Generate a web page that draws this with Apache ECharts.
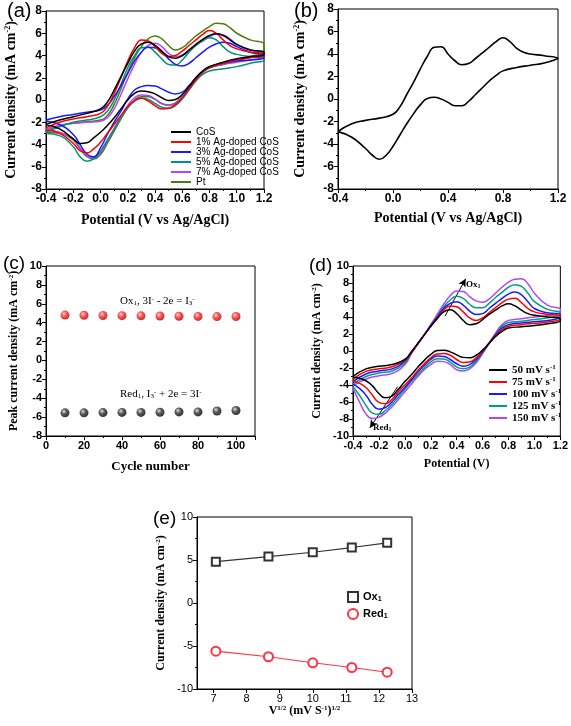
<!DOCTYPE html>
<html><head><meta charset="utf-8">
<script src="https://cdn.jsdelivr.net/npm/echarts@6/dist/echarts.min.js"></script>
<style>html,body{margin:0;padding:0;background:#fff}#c{width:571px;height:726px}</style>
</head><body><div id="c"></div>
<script>
// ---------- shared potential grids (V vs Ag/AgCl) ----------
const potFwd = [-0.4,-0.3,-0.2,-0.1,0,0.05,0.1,0.15,0.2,0.25,0.3,0.35,0.4,0.45,0.5,0.55,0.6,0.65,0.7,0.75,0.8,0.85,0.9,0.95,1.0,1.1,1.2];
const potRev = [1.2,1.1,1.0,0.9,0.8,0.75,0.7,0.65,0.6,0.55,0.5,0.45,0.4,0.35,0.3,0.25,0.2,0.15,0.1,0.05,0,-0.05,-0.1,-0.15,-0.2,-0.3,-0.4];
const potRevD = [1.2,1.1,1.0,0.9,0.8,0.75,0.7,0.65,0.6,0.55,0.5,0.45,0.4,0.35,0.3,0.25,0.2,0.15,0.1,0.05,0,-0.05,-0.1,-0.15,-0.2,-0.25,-0.3,-0.35,-0.4];

// ---------- panel (a) ----------
const aNames = ['CoS','1% Ag-doped CoS','3% Ag-doped CoS','5% Ag-doped CoS','7% Ag-doped CoS','Pt'];
const aCoSFwd = [-2.2,-1.8,-1.5,-1.2,-0.8,-0.2,0.9,2.1,3.3,4.4,5.05,5.2,4.9,4.4,3.9,3.75,4.0,4.5,5.0,5.45,5.8,5.95,5.8,5.4,5.0,4.5,4.3];
const aCoSRev = [4.1,3.9,3.7,3.4,3.0,2.6,2.0,1.2,0.5,0.05,-0.05,0.2,0.55,0.75,0.8,0.6,0.0,-0.8,-1.6,-2.3,-2.9,-3.4,-3.85,-3.9,-3.5,-2.6,-2.2];
const a1Fwd = [-2.5,-2.0,-1.7,-1.5,-1.2,-0.6,0.6,2.0,3.5,4.7,5.4,5.3,4.8,4.2,3.9,4.0,4.4,4.9,5.4,5.9,6.25,6.0,5.4,4.9,4.6,4.3,4.2];
const a1Rev = [4.0,3.8,3.6,3.3,2.9,2.5,1.8,1.0,0.2,-0.4,-0.75,-0.8,-0.5,-0.1,0.15,-0.05,-0.6,-1.4,-2.2,-3.0,-3.8,-4.4,-4.75,-4.55,-3.9,-3.0,-2.7];
const a3Fwd = [-1.8,-1.5,-1.3,-1.1,-0.9,-0.5,0.3,1.3,2.4,3.5,4.3,4.75,4.7,4.3,3.7,3.2,3.05,3.3,3.8,4.3,4.75,5.05,5.2,5.1,4.8,4.3,4.0];
const a3Rev = [3.8,3.6,3.5,3.3,3.0,2.6,2.0,1.3,0.7,0.55,0.7,1.0,1.25,1.3,1.2,0.9,0.1,-1.0,-2.0,-3.1,-4.3,-5.1,-4.85,-4.0,-3.1,-2.2,-1.9];
const a5Fwd = [-2.9,-2.4,-2.0,-1.8,-1.5,-1.0,0.0,1.4,2.9,4.0,4.7,4.75,4.3,3.7,3.2,3.15,3.6,4.3,4.9,5.35,5.6,5.4,4.8,4.3,4.1,3.9,3.8];
const a5Rev = [3.6,3.3,3.0,2.8,2.6,2.3,1.7,0.9,0.1,-0.5,-0.75,-0.65,-0.3,0.05,0.15,-0.1,-0.7,-1.6,-2.6,-3.6,-4.6,-5.3,-5.5,-5.1,-4.2,-3.2,-3.0];
const a7Fwd = [-2.6,-2.3,-2.1,-2.0,-1.9,-1.6,-0.8,0.5,1.9,3.2,4.3,4.9,5.1,4.8,4.2,3.9,4.0,4.4,4.9,5.3,5.65,5.9,5.85,5.5,5.0,4.5,4.2];
const a7Rev = [3.9,3.6,3.4,3.2,2.9,2.5,1.9,1.1,0.3,-0.3,-0.5,-0.35,0.1,0.4,0.45,0.2,-0.5,-1.5,-2.6,-3.7,-4.7,-5.2,-5.0,-4.3,-3.5,-2.9,-2.7];
const aPtFwd = [-2.8,-2.3,-2.1,-1.95,-1.8,-1.4,-0.4,1.0,2.5,3.8,4.8,5.5,5.75,5.5,4.9,4.5,4.7,5.2,5.75,6.2,6.6,6.9,6.85,6.5,6.0,5.4,5.0];
const aPtRev = [4.4,3.9,3.5,3.2,2.9,2.5,1.9,1.1,0.3,-0.25,-0.45,-0.3,0.05,0.3,0.3,0.0,-0.7,-1.7,-2.8,-3.9,-4.9,-5.3,-5.1,-4.4,-3.6,-3.0,-2.9];

// ---------- panel (b) ----------
const bFwd = [-2.9,-2.2,-1.9,-1.7,-1.35,-0.7,0.4,1.5,2.7,3.8,4.6,4.65,4.0,3.4,3.05,3.15,3.6,4.1,4.6,5.1,5.45,5.1,4.5,4.15,4.0,3.85,3.6];
const bRev = [3.55,3.2,3.0,2.8,2.5,2.1,1.6,1.0,0.4,-0.2,-0.6,-0.6,-0.3,0.0,0.15,0.05,-0.5,-1.3,-2.2,-3.2,-4.2,-5.0,-5.35,-5.0,-4.4,-3.4,-2.9];

// ---------- panel (c) ----------
const cycles = [10,20,30,40,50,60,70,80,90,100];
const oxPeak = [4.8,4.78,4.76,4.74,4.72,4.7,4.68,4.66,4.64,4.65];
const redPeak = [-5.55,-5.55,-5.52,-5.5,-5.5,-5.48,-5.45,-5.45,-5.35,-5.3];

// ---------- panel (d) ----------
const dNames = ['50 mV s-1','75 mV s-1','100 mV s-1','125 mV s-1','150 mV s-1'];
const d50Fwd = [-3.0,-2.1,-1.8,-1.6,-1.0,-0.1,0.9,1.9,2.9,3.8,4.6,4.85,4.4,3.6,3.1,3.2,3.7,4.3,4.8,5.3,5.55,5.3,4.8,4.4,4.2,4.0,3.8];
const d50Rev = [3.6,3.2,3.0,2.85,2.7,2.3,1.7,0.9,0.1,-0.5,-0.8,-0.75,-0.45,-0.1,0.1,0.05,-0.4,-1.1,-1.9,-2.8,-3.6,-4.5,-5.3,-5.5,-5.0,-4.1,-3.5,-3.2,-3.1];
const d75Fwd = [-3.3,-2.4,-2.1,-1.85,-1.1,-0.15,0.85,1.9,2.9,3.9,4.8,5.3,5.2,4.6,3.9,3.6,3.9,4.5,5.1,5.7,6.1,6.2,5.7,5.0,4.6,4.3,4.1];
const d75Rev = [3.8,3.4,3.25,3.1,2.9,2.5,1.8,0.9,0.0,-0.8,-1.3,-1.35,-1.0,-0.5,-0.3,-0.35,-0.8,-1.5,-2.3,-3.2,-4.0,-4.8,-5.7,-6.2,-6.05,-5.2,-4.3,-3.8,-3.5];
const d100Fwd = [-3.6,-2.7,-2.35,-2.1,-1.2,-0.2,0.85,1.9,3.0,4.0,5.0,5.6,5.8,5.4,4.7,4.3,4.4,5.0,5.6,6.2,6.7,6.95,6.6,5.8,5.0,4.5,4.3];
const d100Rev = [4.0,3.6,3.45,3.3,3.1,2.7,1.9,0.9,-0.1,-1.0,-1.6,-1.8,-1.5,-1.0,-0.65,-0.6,-1.0,-1.7,-2.5,-3.4,-4.3,-5.1,-6.0,-6.65,-6.85,-6.3,-5.2,-4.4,-3.9];
const d125Fwd = [-3.9,-3.0,-2.6,-2.35,-1.4,-0.25,0.85,1.9,3.0,4.1,5.2,6.0,6.45,6.2,5.5,5.1,5.1,5.6,6.3,6.9,7.5,7.8,7.6,6.8,5.8,4.9,4.5];
const d125Rev = [4.3,3.9,3.7,3.5,3.35,2.9,2.0,0.9,-0.2,-1.2,-1.9,-2.1,-1.9,-1.3,-0.95,-0.9,-1.3,-2.0,-2.8,-3.6,-4.5,-5.4,-6.3,-7.0,-7.45,-7.3,-6.4,-5.2,-4.2];
const d150Fwd = [-4.1,-3.3,-2.9,-2.65,-1.6,-0.35,0.85,1.9,3.1,4.3,5.5,6.5,7.05,7.0,6.4,5.9,5.75,6.1,6.8,7.5,8.1,8.45,8.5,7.9,6.8,5.4,4.9];
const d150Rev = [4.6,4.2,4.0,3.8,3.6,3.1,2.1,0.9,-0.3,-1.4,-2.1,-2.35,-2.2,-1.6,-1.25,-1.2,-1.6,-2.2,-3.0,-3.9,-4.8,-5.7,-6.6,-7.3,-7.8,-7.95,-7.4,-6.0,-4.4];
const oxArrow = [[0.31,4.1],[0.47,8.5]];
const redArrow = [[-0.056,-4.2],[-0.27,-9.05]];

// ---------- panel (e) ----------
const sqrtScan = [7.07,8.66,10,11.18,12.25];
const oxCurrent = [4.8,5.4,5.9,6.45,7.0];
const redCurrent = [-5.6,-6.25,-6.95,-7.5,-8.05];

// ---------- build ----------
const SANS = 'Liberation Sans', SERIF = 'Liberation Serif';
function loop(fv, fj, rv, rj){ return fv.map((v,i)=>[v,fj[i]]).concat(rv.map((v,i)=>[v,rj[i]])); }
function lbl(size,bold,extra){ return Object.assign({fontFamily:SANS,fontWeight:bold?'bold':'normal',fontSize:size,color:'#000',margin:4}, extra||{}); }
function nm(size){ return {fontFamily:SERIF,fontWeight:'bold',fontSize:size,color:'#000',
  rich:{sup:{fontFamily:SERIF,fontWeight:'bold',fontSize:Math.round(size*0.6),verticalAlign:'top',color:'#000'}}}; }
function axis(gi,o){ return Object.assign({gridIndex:gi,type:'value',splitLine:{show:false},
  axisLine:{show:true,onZero:false,lineStyle:{color:'#000',width:1}},
  axisTick:{show:true,inside:false,length:4,lineStyle:{color:'#000',width:1}},
  minorTick:{show:true,splitNumber:2,length:2,lineStyle:{color:'#000',width:1}},
  nameLocation:'middle'},o); }
const f1 = v => v.toFixed(1);

const aFwd = [aCoSFwd,a1Fwd,a3Fwd,a5Fwd,a7Fwd,aPtFwd];
const aRev = [aCoSRev,a1Rev,a3Rev,a5Rev,a7Rev,aPtRev];
const aColors = ['#000000','#ff0000','#1a1aff','#00937a','#b146ff','#4f7d0c'];
const dFwd = [d50Fwd,d75Fwd,d100Fwd,d125Fwd,d150Fwd];
const dRev = [d50Rev,d75Rev,d100Rev,d125Rev,d150Rev];
const dColors = ['#000000','#ff0000','#1a1aff','#00a07c','#b146ff'];

const SM = 0.5;
const series = [];
aNames.forEach((n,i)=>series.push({name:n,type:'line',xAxisIndex:0,yAxisIndex:0,data:loop(potFwd,aFwd[i],potRev,aRev[i]),
  smooth:SM,showSymbol:false,color:aColors[i],lineStyle:{width:1.5},z:10-i}));
series.push({name:'CV',type:'line',xAxisIndex:1,yAxisIndex:1,data:loop(potFwd,bFwd,potRev,bRev),smooth:SM,showSymbol:false,color:'#000',lineStyle:{width:1.6}});
function ball(c0,c1,c2){ return {type:'radial',x:0.38,y:0.35,r:0.65,colorStops:[{offset:0,color:c0},{offset:0.45,color:c1},{offset:1,color:c2}]}; }
series.push({name:'Ox peak',type:'scatter',xAxisIndex:2,yAxisIndex:2,data:cycles.map((c,i)=>[c,oxPeak[i]]),symbolSize:9,itemStyle:{color:ball('#ffd0d0','#ff2a2a','#b00000')}});
series.push({name:'Red peak',type:'scatter',xAxisIndex:2,yAxisIndex:2,data:cycles.map((c,i)=>[c,redPeak[i]]),symbolSize:9,itemStyle:{color:ball('#d8d8d8','#333','#000')}});
dNames.forEach((n,i)=>series.push({name:n,type:'line',xAxisIndex:3,yAxisIndex:3,data:loop(potFwd,dFwd[i],potRevD,dRev[i]),
  smooth:SM,showSymbol:false,color:dColors[i],lineStyle:{width:1.5},z:10-i,
  markLine: i===0 ? {silent:true,symbol:['none','arrow'],symbolSize:[6,8],label:{show:false},lineStyle:{color:'#000',width:1,type:'solid'},
    data:[[{coord:oxArrow[0]},{coord:oxArrow[1]}],[{coord:redArrow[0]},{coord:redArrow[1]}]]} : undefined}));
series.push({name:'Ox1',type:'line',xAxisIndex:4,yAxisIndex:4,data:sqrtScan.map((x,i)=>[x,oxCurrent[i]]),symbol:'emptyRect',symbolSize:8,
  color:'#333',lineStyle:{width:1.2},itemStyle:{borderWidth:1.2}});
series.push({name:'Red1',type:'line',xAxisIndex:4,yAxisIndex:4,data:sqrtScan.map((x,i)=>[x,redCurrent[i]]),symbol:'emptyCircle',symbolSize:9,
  color:'#ff3344',lineStyle:{width:1.2},itemStyle:{borderWidth:1.2}});

const gridBase = {show:true,borderColor:'#000',borderWidth:1,backgroundColor:'transparent'};
const option = {
  animation:false,
  backgroundColor:'#fff',
  grid:[
    Object.assign({left:46,top:11,width:218,height:178},gridBase),
    Object.assign({left:338,top:9,width:220,height:180},gridBase),
    Object.assign({left:46,top:266,width:209,height:170},gridBase),
    Object.assign({left:353,top:266,width:209,height:170},gridBase),
    Object.assign({left:197,top:517,width:215,height:172},gridBase)
  ],
  xAxis:[
    axis(0,{min:-0.4,max:1.2,interval:0.2,axisLabel:lbl(12,true,{formatter:f1}),name:'Potential (V vs Ag/AgCl)',nameGap:24,nameTextStyle:nm(14)}),
    axis(1,{min:-0.4,max:1.2,interval:0.4,axisLabel:lbl(12,true,{formatter:f1}),name:'Potential (V vs Ag/AgCl)',nameGap:22,nameTextStyle:nm(14)}),
    axis(2,{min:0,max:110,interval:20,axisLabel:lbl(11,true,{showMaxLabel:false}),name:'Cycle number',nameGap:24,nameTextStyle:nm(13)}),
    axis(3,{min:-0.4,max:1.2,interval:0.2,axisLabel:lbl(11,true,{formatter:f1}),name:'Potential (V)',nameGap:22,nameTextStyle:nm(12)}),
    axis(4,{min:6.5,max:13,axisLabel:lbl(11,false,{showMinLabel:false}),minorTick:{show:false},name:'V{sup|1/2} (mV S{sup|-1}){sup|1/2}',nameGap:15,nameTextStyle:nm(12)})
  ],
  yAxis:[
    axis(0,{min:-8,max:8,interval:2,axisLabel:lbl(12,true),name:'Current density (mA cm{sup|-2})',nameGap:28,nameTextStyle:nm(14)}),
    axis(1,{min:-8,max:8,interval:2,axisLabel:lbl(12,true),name:'Current density (mA cm{sup|-2})',nameGap:31,nameTextStyle:nm(14)}),
    axis(2,{min:-8,max:10,interval:2,axisLabel:lbl(11,true),name:'Peak current density (mA cm{sup|-2})',nameGap:26,nameTextStyle:nm(12)}),
    axis(3,{min:-10,max:10,interval:2,axisLabel:lbl(11,true),name:'Current density (mA cm{sup|-2})',nameGap:30,nameTextStyle:nm(12)}),
    axis(4,{min:-10,max:10,interval:5,axisLabel:lbl(11,false),name:'Current density (mA cm{sup|-2})',nameGap:30,nameTextStyle:nm(12)})
  ],
  legend:[
    {left:171,top:127,padding:0,orient:'vertical',icon:'rect',itemWidth:20,itemHeight:2,itemGap:0,data:aNames,
      textStyle:{fontFamily:SANS,fontSize:10,color:'#000',lineHeight:10}},
    {left:489,top:364,padding:0,orient:'vertical',icon:'rect',itemWidth:18,itemHeight:2,itemGap:0,data:dNames,
      formatter:n=>n.replace('s-1','s{sup|-1}'),
      textStyle:{fontFamily:SERIF,fontWeight:'bold',fontSize:11,color:'#000',lineHeight:12,
        rich:{sup:{fontFamily:SERIF,fontWeight:'bold',fontSize:7,verticalAlign:'top',color:'#000'}}}},
    {left:347,top:591,padding:0,orient:'vertical',itemWidth:10,itemHeight:10,itemGap:5,
      data:[{name:'Ox1',icon:'emptyRect'},{name:'Red1',icon:'emptyCircle'}],
      formatter:n=>n.replace(/1$/,'{sub|1}'),
      textStyle:{fontFamily:SANS,fontWeight:'bold',fontSize:11,color:'#000',
        rich:{sub:{fontFamily:SANS,fontWeight:'bold',fontSize:7,verticalAlign:'bottom',color:'#000'}}}}
  ],
  graphic:[
    {type:'text',left:7,top:1,style:{text:'(a)',font:'20px "Liberation Sans"',fill:'#000'}},
    {type:'text',left:294,top:1,style:{text:'(b)',font:'20px "Liberation Sans"',fill:'#000'}},
    {type:'text',left:3,top:254,style:{text:'(c)',font:'19px "Liberation Sans"',fill:'#000'}},
    {type:'text',left:309,top:256,style:{text:'(d)',font:'19px "Liberation Sans"',fill:'#000'}},
    {type:'text',left:153,top:509,style:{text:'(e)',font:'19px "Liberation Sans"',fill:'#000'}},
    {type:'text',left:120,top:296,style:{text:'Ox{sub|1}, 3I{sup|-} - 2e = I{sub|3}{sup|-}',font:'11px "Liberation Serif"',fill:'#000',
      rich:{sub:{fontSize:7,fontFamily:SERIF,verticalAlign:'bottom'},sup:{fontSize:7,fontFamily:SERIF,verticalAlign:'top'}}}},
    {type:'text',left:120,top:389,style:{text:'Red{sub|1}, I{sub|3}{sup|-} + 2e = 3I{sup|-}',font:'11px "Liberation Serif"',fill:'#000',
      rich:{sub:{fontSize:7,fontFamily:SERIF,verticalAlign:'bottom'},sup:{fontSize:7,fontFamily:SERIF,verticalAlign:'top'}}}},
    {type:'text',left:466,top:280,style:{text:'Ox{sub|1}',font:'bold 9px "Liberation Serif"',fill:'#000',
      rich:{sub:{fontSize:6,fontFamily:SERIF,fontWeight:'bold',verticalAlign:'bottom'}}}},
    {type:'text',left:373,top:423,style:{text:'Red{sub|1}',font:'bold 9px "Liberation Serif"',fill:'#000',
      rich:{sub:{fontSize:6,fontFamily:SERIF,fontWeight:'bold',verticalAlign:'bottom'}}}}
  ],
  series:series
};
const chart = echarts.init(document.getElementById('c'));
chart.setOption(option);
</script></body></html>
